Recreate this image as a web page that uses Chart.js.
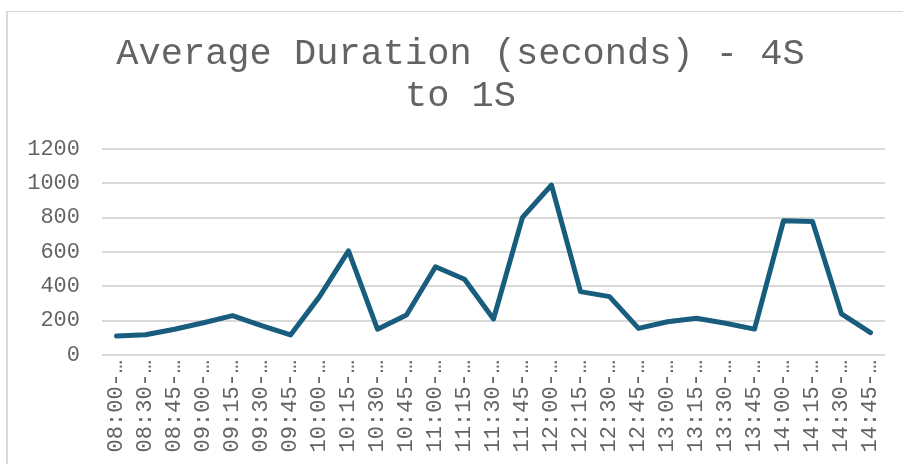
<!DOCTYPE html>
<html>
<head>
<meta charset="utf-8">
<script src="https://cdn.jsdelivr.net/npm/chart.js@4/dist/chart.umd.min.js"></script>
<style>
  html, body { margin: 0; padding: 0; background: #ffffff; overflow: hidden; }
  #wrap { position: absolute; left: 0; top: 0; width: 903px; height: 464px; }
  #frame { position: absolute; left: 6px; top: 11px; width: 1000px; height: 1000px;
           border-left: 2px solid #d9d9d9; border-top: 1px solid #d9d9d9; box-sizing: border-box; }
  canvas { position: absolute; left: 0; top: 0; }
</style>
</head>
<body>
<div id="wrap">
  <div id="frame"></div>
  <canvas id="c" width="903" height="464"></canvas>
</div>
<script>
const titleLines = ["Average Duration (seconds) - 4S", "to 1S"];
const categories = ["08:00-…","08:30-…","08:45-…","09:00-…","09:15-…","09:30-…","09:45-…",
  "10:00-…","10:15-…","10:30-…","10:45-…","11:00-…","11:15-…","11:30-…","11:45-…",
  "12:00-…","12:15-…","12:30-…","12:45-…","13:00-…","13:15-…","13:30-…","13:45-…",
  "14:00-…","14:15-…","14:30-…","14:45-…"];
const avgDuration = [110,118,150,188,229,171,117,340,606,150,233,514,441,210,802,
  990,369,340,155,194,214,185,151,782,777,239,130];
const yTicks = [0,200,400,600,800,1000,1200];

const textColor = "#636363";
const mono = "'Liberation Mono', 'Courier New', monospace";

const shiftTitle = {
  id: "shiftTitle",
  afterLayout(chart) {
    if (chart.titleBlock) { chart.titleBlock.left = 36; chart.titleBlock.right = 885; }
  }
};

new Chart(document.getElementById("c"), {
  type: "line",
  data: {
    labels: categories,
    datasets: [{
      data: avgDuration,
      borderColor: "#185d7e",
      backgroundColor: "#185d7e",
      borderWidth: 5,
      pointRadius: 0,
      tension: 0,
      borderJoinStyle: "round",
      borderCapStyle: "round",
      fill: false
    }]
  },
  plugins: [shiftTitle],
  options: {
    responsive: false,
    devicePixelRatio: 1,
    animation: false,
    layout: { padding: { left: 0, right: 18, top: 0, bottom: 0 } },
    plugins: {
      legend: { display: false },
      tooltip: { enabled: false },
      title: {
        display: true,
        text: titleLines,
        color: textColor,
        font: { family: mono, size: 37, weight: "normal", lineHeight: 1.135 },
        padding: { top: 33, bottom: 32 }
      }
    },
    scales: {
      x: {
        offset: true,
        grid: { display: false },
        border: { display: false },
        ticks: {
          color: textColor,
          font: { family: mono, size: 22 },
          minRotation: 90,
          maxRotation: 90,
          autoSkip: false,
          padding: -3
        },
        afterFit: (s) => { s.height = 109; }
      },
      y: {
        min: 0,
        max: 1200,
        afterBuildTicks: (s) => { s.ticks = yTicks.map(v => ({ value: v })); },
        grid: { color: "#d9d9d9", lineWidth: 2, drawTicks: false },
        border: { display: false },
        ticks: {
          color: textColor,
          font: { family: mono, size: 22 },
          padding: 22,
          callback: (v) => String(v)
        },
        afterFit: (s) => { s.width = 102; }
      }
    }
  }
});
</script>
</body>
</html>
